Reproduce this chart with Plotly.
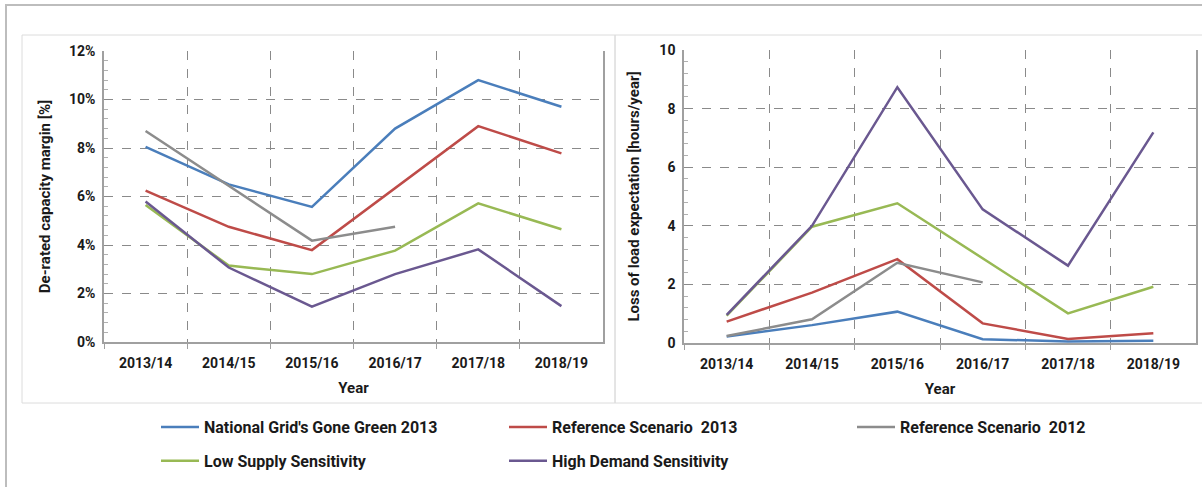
import plotly.graph_objects as go

years = ["2013/14", "2014/15", "2015/16", "2016/17", "2017/18", "2018/19"]
series_names = [
    "National Grid's Gone Green 2013",
    "Reference Scenario  2013",
    "Reference Scenario  2012",
    "Low Supply Sensitivity",
    "High Demand Sensitivity",
]
colors = ["#4A7EBB", "#BE4B48", "#8C8C8C", "#98B954", "#6A5890"]

# De-rated capacity margin [fraction]
margin_gone_green = [0.0805, 0.065, 0.0557, 0.088, 0.108, 0.097]
margin_ref_2013 = [0.0624, 0.0475, 0.0379, 0.0635, 0.089, 0.0778]
margin_ref_2012 = [0.087, 0.0645, 0.0418, 0.0475, None, None]
margin_low_supply = [0.0565, 0.0315, 0.028, 0.0377, 0.0572, 0.0465]
margin_high_demand = [0.0579, 0.0307, 0.0146, 0.028, 0.0382, 0.0148]

# Loss of load expectation [hours/year]
lole_gone_green = [0.22, 0.61, 1.07, 0.13, 0.05, 0.08]
lole_ref_2013 = [0.73, 1.72, 2.86, 0.67, 0.14, 0.33]
lole_ref_2012 = [0.24, 0.81, 2.74, 2.07, None, None]
lole_low_supply = [0.93, 3.97, 4.77, 2.88, 1.01, 1.92]
lole_high_demand = [0.96, 4.0, 8.73, 4.56, 2.64, 7.19]

left_data = [margin_gone_green, margin_ref_2013, margin_ref_2012, margin_low_supply, margin_high_demand]
right_data = [lole_gone_green, lole_ref_2013, lole_ref_2012, lole_low_supply, lole_high_demand]

W, H = 1202, 487
FONT = "Roboto, Arial, sans-serif"

def px_x(p):
    return p / W

def px_y(p):
    return 1 - p / H

fig = go.Figure()

for i, name in enumerate(series_names):
    fig.add_trace(go.Scatter(
        x=years, y=left_data[i], mode="lines", name="<b>" + name + "</b>",
        line=dict(color=colors[i], width=2.5), legendgroup=name,
        showlegend=True, xaxis="x", yaxis="y", connectgaps=False,
    ))
for i, name in enumerate(series_names):
    fig.add_trace(go.Scatter(
        x=years, y=right_data[i], mode="lines", name="<b>" + name + "</b>",
        line=dict(color=colors[i], width=2.5), legendgroup=name,
        showlegend=False, xaxis="x2", yaxis="y2", connectgaps=False,
    ))

grid = dict(showgrid=True, gridcolor="#8A8A8A", griddash="dash", gridwidth=1)
axfont = dict(family=FONT, size=14, color="#1a1a1a")
titlefont = dict(family=FONT, size=15, color="#1a1a1a")

xcommon = dict(
    type="category", range=[-0.5, 5.5], tickson="boundaries", ticks="outside", ticklen=5,
    tickcolor="#A0A0A0", showline=True, linecolor="#A0A0A0", linewidth=1.5,
    tickfont=axfont, ticklabelstandoff=7,
    tickprefix="<b>", ticksuffix="</b>",
    title=dict(text="<b>Year</b>", font=titlefont, standoff=13),
    automargin=False, **grid,
)

def ycommon(minor_dtick):
    return dict(
        showline=True, linecolor="#A0A0A0", linewidth=1.5, mirror=True,
        ticks="inside", ticklen=0, tickcolor="#A0A0A0", tickfont=axfont,
        automargin=False, zeroline=False, ticklabelstandoff=4,
        tickprefix="<b>", ticksuffix="</b>",
        minor=dict(ticks="inside", ticklen=4, tickcolor="#B0B0B0", dtick=minor_dtick, showgrid=False),
        **grid,
    )

fig.update_layout(
    width=W, height=H,
    margin=dict(l=0, r=0, t=0, b=0),
    paper_bgcolor="white", plot_bgcolor="white",
    font=dict(family=FONT, color="#1a1a1a"),
    xaxis=dict(domain=[px_x(104), px_x(603)], anchor="y", **xcommon),
    yaxis=dict(domain=[px_y(342), px_y(51)], anchor="x", range=[0, 0.12],
               dtick=0.02, tickformat=".0%",
               title=dict(text="<b>De-rated capacity margin [%]</b>", font=titlefont, standoff=15),
               **ycommon(0.004)),
    xaxis2=dict(domain=[px_x(684), px_x(1196)], anchor="y2", **xcommon),
    yaxis2=dict(domain=[px_y(343), px_y(50)], anchor="x2", range=[0, 10],
                dtick=2,
                title=dict(text="<b>Loss of load expectation [hours/year]</b>", font=titlefont, standoff=16),
                **ycommon(0.4)),
    legend=dict(
        orientation="h", x=px_x(156), xanchor="left", y=px_y(410), yanchor="top",
        entrywidth=295, entrywidthmode="pixels",
        font=dict(family=FONT, size=16, color="#1a1a1a"),
        bgcolor="rgba(0,0,0,0)", itemwidth=38,
    ),
    shapes=[
        dict(type="rect", xref="paper", yref="paper", x0=px_x(6), x1=px_x(1210),
             y0=px_y(495), y1=px_y(5), line=dict(color="#BDBDBD", width=2)),
        dict(type="rect", xref="paper", yref="paper", x0=px_x(22), x1=px_x(615),
             y0=px_y(403), y1=px_y(35), line=dict(color="#DCDCDC", width=1)),
        dict(type="rect", xref="paper", yref="paper", x0=px_x(615), x1=px_x(1210),
             y0=px_y(403), y1=px_y(35), line=dict(color="#DCDCDC", width=1)),
    ],
)

fig.write_html(
    "out.html",
    config={"displayModeBar": False},
    post_script="document.body.style.margin='0';document.body.style.overflow='hidden';",
)
